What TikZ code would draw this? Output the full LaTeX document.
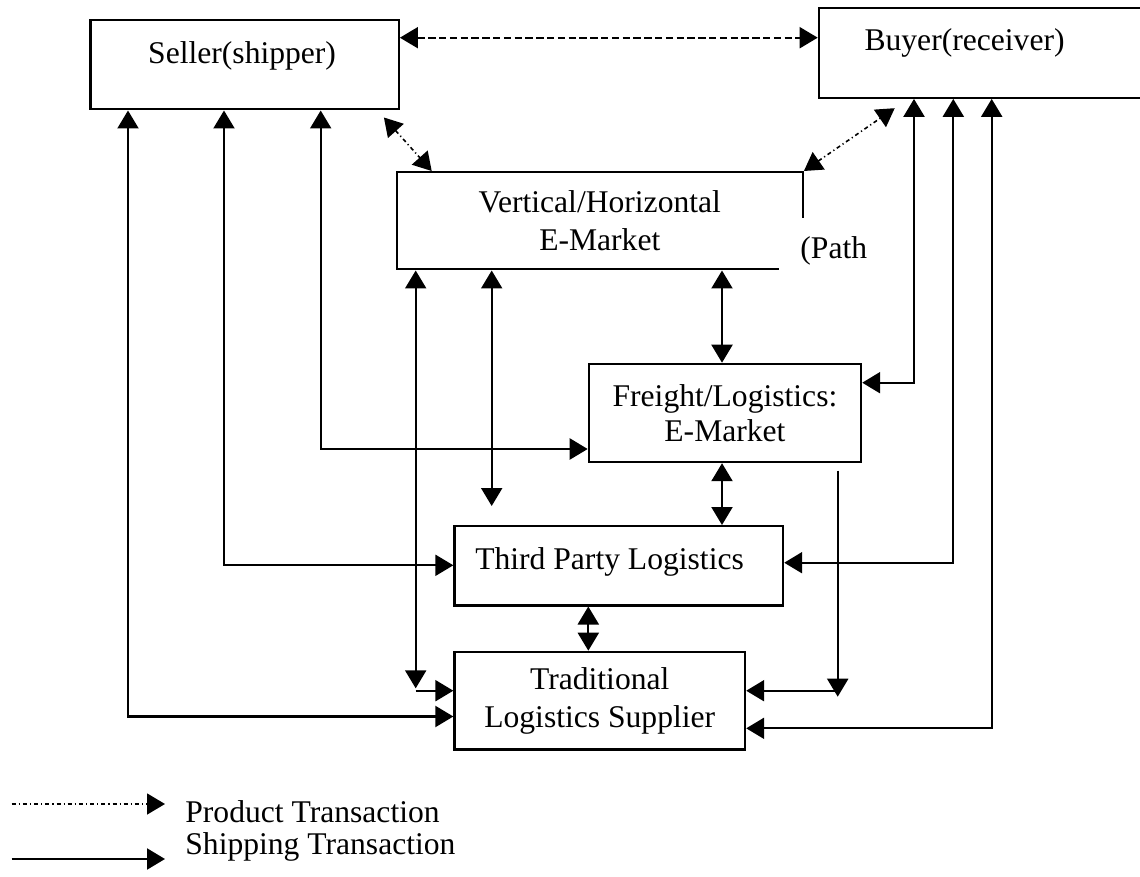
\documentclass[tikz,border=0pt]{standalone}
\usepackage{fontspec}
\setmainfont{Liberation Serif}
\usetikzlibrary{arrows.meta,calc}
\begin{document}
\begin{tikzpicture}[x=0.5pt,y=-0.5pt,
  font=\fontsize{15.8}{19}\selectfont,
  >={Triangle[length=9pt,width=10.5pt]},
  box/.style={draw,rectangle,line width=1.1pt,inner sep=0pt,anchor=north west},
  conn/.style={line width=1.1pt},
  dashconn/.style={line width=0.9pt,dash pattern=on 3.7pt off 1.7pt},
  dotconn/.style={line width=0.8pt,dash pattern=on 2pt off 1.5pt on 0.6pt off 1.5pt},
  legtext/.style={anchor=base west,inner sep=0pt}]
\useasboundingbox (0,0) rectangle (1140,877);

% boxes
\node[box, minimum width=154.2pt, text height=21.5pt, text depth=23.15pt] (seller) at (89.3,19) {Seller(shipper)\rule{2.5pt}{0pt}};
\node[box, minimum width=164.15pt, text height=20.85pt, text depth=23.85pt] (buyer) at (817.7,7.3) {Buyer(receiver)\rule{18.4pt}{0pt}};
\node[box, align=center, minimum width=203pt, minimum height=48.65pt] (vh) at (395.7,171) {Vertical/Horizontal\\E-Market};
\node[anchor=north west, fill=white, inner sep=0pt, text height=20pt, text depth=11pt] (pathlabel) at (779,218) {\makebox[66.5pt][l]{\hspace{10.5pt}(Path}};
\node[box, align=center, minimum width=136.15pt, minimum height=49.15pt] (freight) at (587.7,362.7) {Freight/Logistics:\\[-1.5pt]E-Market};
\node[box, minimum width=164.35pt, text height=21.5pt, text depth=18.15pt] (third) at (453.3,525) {Third Party Logistics\rule{9.2pt}{0pt}};
\node[box, align=center, minimum width=145.35pt, minimum height=48.8pt] (trad) at (453.3,650.7) {Traditional\\Logistics Supplier};

% legend
\node[legtext] (lp) at (185,822) {Product Transaction};
\node[legtext] (ls) at (185,854) {Shipping Transaction};
\coordinate (lpa) at (11.7,804);
\coordinate (lpb) at (165,804);
\coordinate (lsa) at (11.7,859);
\coordinate (lsb) at (165,859);
\draw[dotconn,->] (lpa) -- (lpb);
\draw[conn,->] (lsa) -- (lsb);

% columns and rows
\coordinate (c128) at (128,0);
\coordinate (c224) at (224,0);
\coordinate (c321) at (320.7,0);
\coordinate (c416) at (415.7,0);
\coordinate (c492) at (491.7,0);
\coordinate (c588) at (588.3,0);
\coordinate (c722) at (722,0);
\coordinate (c838) at (837.7,0);
\coordinate (c914) at (914,0);
\coordinate (c953) at (953.3,0);
\coordinate (c992) at (991.7,0);
\coordinate (r38) at (0,37.7);
\coordinate (r383) at (0,382.7);
\coordinate (r449) at (0,449);
\coordinate (r506) at (0,506);
\coordinate (r563) at (0,562.7);
\coordinate (r565) at (0,565.3);
\coordinate (r689) at (0,688.3);
\coordinate (r690) at (0,690.7);
\coordinate (r697) at (0,696.7);
\coordinate (r716) at (0,716.5);
\coordinate (r728) at (0,728.3);

% product transactions
\draw[dashconn,<->] (seller.east |- r38) -- (buyer.west |- r38);
\draw[dotconn,<->] ([shift={(-16,7)}]seller.south east) -- ([shift={(36,0)}]vh.north west);
\draw[dotconn,<->] (vh.north east) -- ([shift={(77,9.3)}]buyer.south west);

% shipping transactions
\draw[conn,<->] (c128 |- seller.south) |- (trad.west |- r716);
\draw[conn,<->] (c224 |- seller.south) |- (third.west |- r565);
\draw[conn,<->] (c321 |- seller.south) |- (freight.west |- r449);
\draw[conn,<->] (c416 |- vh.south) -- (c416 |- r689);
\draw[conn,->] (c416 |- r690) -- (trad.west |- r690);
\draw[conn,<->] (c492 |- vh.south) -- (c492 |- r506);
\draw[conn,<->] (c722 |- vh.south) -- (c722 |- freight.north);
\draw[conn,<->] (c722 |- freight.south) -- (c722 |- third.north);
\draw[conn,<->] (c588 |- third.south) -- (c588 |- trad.north);
\draw[conn,->] ($(c838 |- freight.south)+(0,7.3)$) -- (c838 |- r697);
\draw[conn,->] (c838 |- r690) -- (trad.east |- r690);
\draw[conn,<->] (c914 |- buyer.south) |- (freight.east |- r383);
\draw[conn,<->] (c953 |- buyer.south) |- (third.east |- r563);
\draw[conn,<->] (c992 |- buyer.south) |- (trad.east |- r728);
\end{tikzpicture}
\end{document}
